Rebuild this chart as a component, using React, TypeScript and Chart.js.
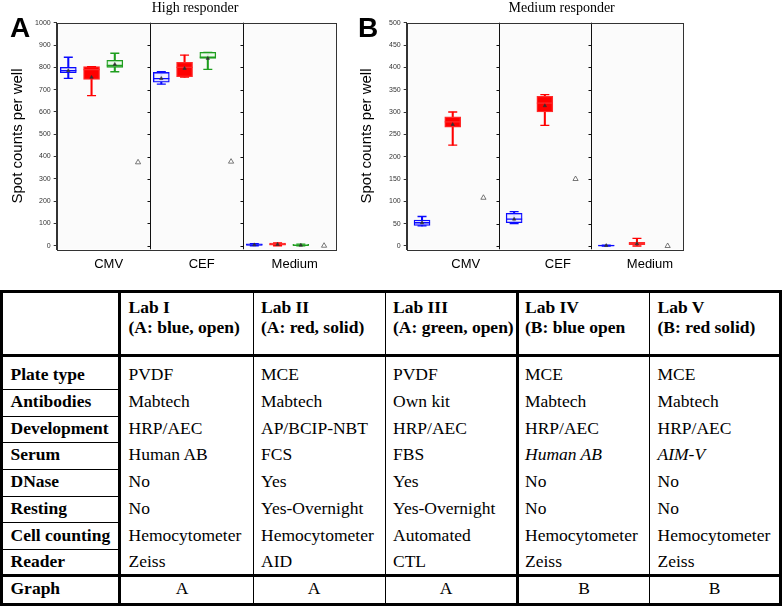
import { useEffect, useRef } from "react";
import { Chart, registerables } from "chart.js";
Chart.register(...registerables);

// ---------- chart data ----------
const groups = ["CMV", "CEF", "Medium"];

// each entry: [min, q1, median, q3, max, mean] for CMV, CEF, Medium
const labI_A = [[750, 776, 785, 800, 845, 785], [725, 733, 749, 777, 780, 750], [0, 0, 4, 9, 9, 4]];
const labII_A = [[673, 746, 790, 803, 803, 755], [756, 758, 800, 822, 855, 795], [0, 2, 6, 12, 13, 6]];
const labIII_A = [[780, 800, 808, 831, 863, 813], [791, 840, 845, 867, 867, 840], [0, 0, 2, 6, 7, 2]];
const refA = [374, 377, 0];

const labIV_B = [[45, 46, 52, 58, 66, 52], [50, 52, 60, 73, 77, 60], [0, 0, 1, 2, 2, 1]];
const labV_B = [[226, 266, 278, 289, 300, 272], [270, 300, 320, 335, 339, 314], [0, 3, 5, 8, 17, 5]];
const refB = [108, 150, 0];

const yAxisA = [-16, 1000, 100]; // min, max, step
const yAxisB = [-7.4, 500, 50];

// ---------- table data ----------
const rowLabels = ["Plate type", "Antibodies", "Development", "Serum", "DNase", "Resting", "Cell counting", "Reader"];
const labNames = ["Lab I", "Lab II", "Lab III", "Lab IV", "Lab V"];
const labKeys = ["(A: blue, open)", "(A: red, solid)", "(A: green, open)", "(B: blue open", "(B: red solid)"];
const labI = ["PVDF", "Mabtech", "HRP/AEC", "Human AB", "No", "No", "Hemocytometer", "Zeiss"];
const labII = ["MCE", "Mabtech", "AP/BCIP-NBT", "FCS", "Yes", "Yes-Overnight", "Hemocytometer", "AID"];
const labIII = ["PVDF", "Own kit", "HRP/AEC", "FBS", "Yes", "Yes-Overnight", "Automated", "CTL"];
const labIV = ["MCE", "Mabtech", "HRP/AEC", "Human AB", "No", "No", "Hemocytometer", "Zeiss"];
const labV = ["MCE", "Mabtech", "HRP/AEC", "AIM-V", "No", "No", "Hemocytometer", "Zeiss"];
const graphRow = ["A", "A", "A", "B", "B"];
const italicCells = ["3-3", "3-4"]; // row-col

const BLUE = "#0a0aff";
const RED = "#ff0000";
const GREEN = "#1f9e1f";

type Lab = { stats: number[][]; color: string; fill: string; edge: string };

function buildData(labs: Lab[], ref: number[]) {
  const labels: string[] = [];
  const whisker: any[] = [], box: any[] = [], med: any[] = [], lo: any[] = [], hi: any[] = [], mean: any[] = [], refd: any[] = [];
  const col: string[] = [], fill: string[] = [], edge: string[] = [];
  groups.forEach((g, gi) => {
    labs.forEach((lab, li) => {
      const s = lab.stats[gi];
      labels.push(g + "-" + li);
      whisker.push([s[0], s[4]]);
      box.push([s[1], s[3]]);
      med.push(s[2]);
      lo.push(s[0]);
      hi.push(s[4]);
      mean.push(s[5]);
      refd.push(null);
      col.push(lab.color);
      fill.push(lab.fill);
      edge.push(lab.edge);
    });
    labels.push(g + "-ref");
    whisker.push(null); box.push(null); med.push(null); lo.push(null); hi.push(null); mean.push(null);
    refd.push(ref[gi]);
    col.push("#000"); fill.push("#fff"); edge.push("#000");
  });
  const common = { xAxisID: "x", yAxisID: "y" };
  const datasets: any[] = [
    { ...common, type: "bar", data: whisker, backgroundColor: col, borderWidth: 0, barThickness: 1.4, grouped: false, order: 5 },
    { ...common, type: "bar", data: box, backgroundColor: fill, borderColor: edge, borderWidth: 1.3, borderSkipped: false, barThickness: 16, grouped: false, order: 4 },
    { ...common, type: "line", data: med, showLine: false, pointStyle: "line", pointRadius: 8, pointBorderColor: edge, pointBorderWidth: 1.3, order: 3 },
    { ...common, type: "line", data: lo, showLine: false, pointStyle: "line", pointRadius: 4.5, pointBorderColor: col, pointBorderWidth: 1.3, order: 3 },
    { ...common, type: "line", data: hi, showLine: false, pointStyle: "line", pointRadius: 4.5, pointBorderColor: col, pointBorderWidth: 1.3, order: 3 },
    { ...common, type: "line", data: mean, showLine: false, pointStyle: "triangle", pointRadius: 2, pointBackgroundColor: "#333", pointBorderColor: "#333", pointBorderWidth: 0.5, order: 1 },
    { ...common, type: "line", data: refd, showLine: false, pointStyle: "triangle", pointRadius: 3, pointBackgroundColor: "#fff", pointBorderColor: "#555", pointBorderWidth: 0.8, order: 1 },
  ];
  return { labels, datasets };
}

const panelPlugin = {
  id: "panelFrame",
  beforeDraw(chart: any) {
    const { ctx, chartArea: a } = chart;
    ctx.save();
    ctx.fillStyle = "#fbfbfb";
    ctx.fillRect(a.left, a.top, a.right - a.left, a.bottom - a.top);
    ctx.restore();
  },
  afterDatasetsDraw(chart: any) {
    const { ctx, chartArea: a, scales } = chart;
    const xg = scales.xg;
    const y = scales.y;
    ctx.save();
    ctx.strokeStyle = "#111";
    ctx.lineWidth = 1;
    for (let k = 1; k < groups.length; k++) {
      const x = Math.round((xg.getPixelForValue(k - 1) + xg.getPixelForValue(k)) / 2) + 0.5;
      ctx.beginPath();
      ctx.moveTo(x, a.top);
      ctx.lineTo(x, a.bottom);
      ctx.stroke();
      y.ticks.forEach((t: any) => {
        const py = Math.round(y.getPixelForValue(t.value)) + 0.5;
        ctx.beginPath();
        ctx.moveTo(x - 3, py);
        ctx.lineTo(x, py);
        ctx.stroke();
      });
    }
    ctx.strokeStyle = "#333";
    ctx.strokeRect(Math.round(a.left) + 0.5, Math.round(a.top) + 0.5, Math.round(a.right - a.left), Math.round(a.bottom - a.top));
    ctx.restore();
  },
};

function Panel(props: { labs: Lab[]; refVals: number[]; yAxis: number[]; width: number; left: number; pad: any; titlePadBottom: number; labelOffset: number }) {
  const ref = useRef<HTMLCanvasElement | null>(null);
  useEffect(() => {
    if (!ref.current) return;
    const { labels, datasets } = buildData(props.labs, props.refVals);
    const chart = new Chart(ref.current, {
      type: "bar",
      data: { labels, datasets },
      plugins: [panelPlugin],
      options: {
        animation: false,
        responsive: false,
        maintainAspectRatio: false,
        layout: { padding: props.pad },
        plugins: { legend: { display: false }, tooltip: { enabled: false }, title: { display: false } },
        scales: {
          x: { type: "category", labels, display: false, offset: true },
          xg: {
            type: "category",
            labels: groups,
            position: "bottom",
            offset: true,
            grid: { display: false, drawTicks: false },
            border: { display: false },
            ticks: { font: { family: "Liberation Sans", size: 13 }, color: "#000", padding: 7, labelOffset: props.labelOffset, maxRotation: 0, autoSkip: false },
          },
          y: {
            type: "linear",
            position: "left",
            min: props.yAxis[0],
            max: props.yAxis[1],
            ticks: { stepSize: props.yAxis[2], includeBounds: false, font: { family: "Liberation Sans", size: 7 }, color: "#333", padding: 3, callback: (v: any) => String(v) },
            grid: { display: true, drawOnChartArea: false, tickLength: 3, color: "#333" },
            border: { display: true, color: "#333" },
            title: { display: true, text: "Spot counts per well", font: { family: "Liberation Sans", size: 15 }, color: "#000", padding: { top: 0, bottom: props.titlePadBottom } },
          },
        },
      } as any,
    });
    return () => chart.destroy();
  }, []);
  return (
    <canvas
      ref={ref}
      width={props.width}
      height={280}
      style={{ position: "absolute", left: props.left, top: 0, width: props.width, height: 280 }}
    />
  );
}

const serif = "'Liberation Serif', 'Times New Roman', serif";

function Table() {
  const cols = [labI, labII, labIII, labIV, labV];
  const textLeft = [128.5, 261, 393, 525, 657.5];
  const graphCenter = [182, 314, 446, 584, 714.5];
  const lines: any[] = [];
  const L = (x: number, y: number, w: number, h: number) => lines.push({ x, y, w, h });
  L(0, 290, 782, 3); L(0, 603, 782, 3); L(0, 290, 3, 316); L(779, 290, 3, 316);
  L(118, 290, 3, 316); L(516, 290, 3, 316);
  L(253, 290, 1, 316); L(385, 290, 1, 316); L(649, 290, 1, 316);
  L(0, 354, 782, 3); L(0, 574, 782, 3);
  [389, 416, 442, 469, 496, 522, 549].forEach((y) => L(3, y, 115, 1));
  const base = (i: number) => 380 + i * 26.76 - 15.9;
  const txt: any = { position: "absolute", fontFamily: serif, fontSize: 17.5, lineHeight: "20px", color: "#000", whiteSpace: "nowrap" };
  const gTop = 593.5 - 15.9;
  return (
    <div>
      {lines.map((l, i) => (
        <div key={"l" + i} style={{ position: "absolute", left: l.x, top: l.y, width: l.w, height: l.h, background: "#000" }} />
      ))}
      {labNames.map((n, i) => (
        <div key={"h" + i} style={{ ...txt, left: textLeft[i], top: 296.5, fontWeight: "bold" }}>
          {n}
          <br />
          {labKeys[i]}
        </div>
      ))}
      {rowLabels.map((r, ri) => (
        <div key={"r" + ri} style={{ ...txt, left: 10.5, top: base(ri), fontWeight: "bold" }}>{r}</div>
      ))}
      {cols.map((c, ci) =>
        c.map((v, ri) => (
          <div key={"c" + ci + "-" + ri} style={{ ...txt, left: textLeft[ci], top: base(ri), fontStyle: italicCells.includes(ri + "-" + ci) ? "italic" : "normal" }}>{v}</div>
        ))
      )}
      <div style={{ ...txt, left: 10.5, top: gTop, fontWeight: "bold" }}>Graph</div>
      {graphRow.map((g, i) => (
        <div key={"g" + i} style={{ ...txt, left: graphCenter[i] - 30, width: 60, textAlign: "center", top: gTop }}>{g}</div>
      ))}
    </div>
  );
}

export default function App() {
  const labsA: Lab[] = [
    { stats: labI_A, color: BLUE, fill: "rgba(235,235,255,0.9)", edge: BLUE },
    { stats: labII_A, color: RED, fill: RED, edge: "#ff2a2a" },
    { stats: labIII_A, color: GREEN, fill: "rgba(235,250,235,0.9)", edge: GREEN },
  ];
  const labsB: Lab[] = [
    { stats: labIV_B, color: BLUE, fill: "rgba(235,235,255,0.9)", edge: BLUE },
    { stats: labV_B, color: RED, fill: RED, edge: "#ff2a2a" },
  ];
  return (
    <div style={{ position: "absolute", left: 0, top: 0, width: 782, height: 606, background: "#fff", overflow: "hidden" }}>
      <Panel labs={labsA} refVals={refA} yAxis={yAxisA} width={345} left={0} pad={{ left: 9, right: 6, top: 22.7, bottom: 1.1 }} titlePadBottom={5.1} labelOffset={5.5} />
      <Panel labs={labsB} refVals={refB} yAxis={yAxisB} width={355} left={345} pad={{ left: 12.7, right: 17, top: 22.7, bottom: 1.1 }} titlePadBottom={10.3} labelOffset={13} />
      <div style={{ position: "absolute", left: 95, width: 200, top: 0, textAlign: "center", fontFamily: serif, fontSize: 14, lineHeight: "16px" }}>High responder</div>
      <div style={{ position: "absolute", left: 461.7, width: 200, top: 0, textAlign: "center", fontFamily: serif, fontSize: 14, lineHeight: "16px" }}>Medium responder</div>
      <div style={{ position: "absolute", left: 10, top: 14.3, fontFamily: "'Liberation Sans', Arial, sans-serif", fontWeight: "bold", fontSize: 28, lineHeight: "28px" }}>A</div>
      <div style={{ position: "absolute", left: 358, top: 14.3, fontFamily: "'Liberation Sans', Arial, sans-serif", fontWeight: "bold", fontSize: 28, lineHeight: "28px" }}>B</div>
      <Table />
    </div>
  );
}
